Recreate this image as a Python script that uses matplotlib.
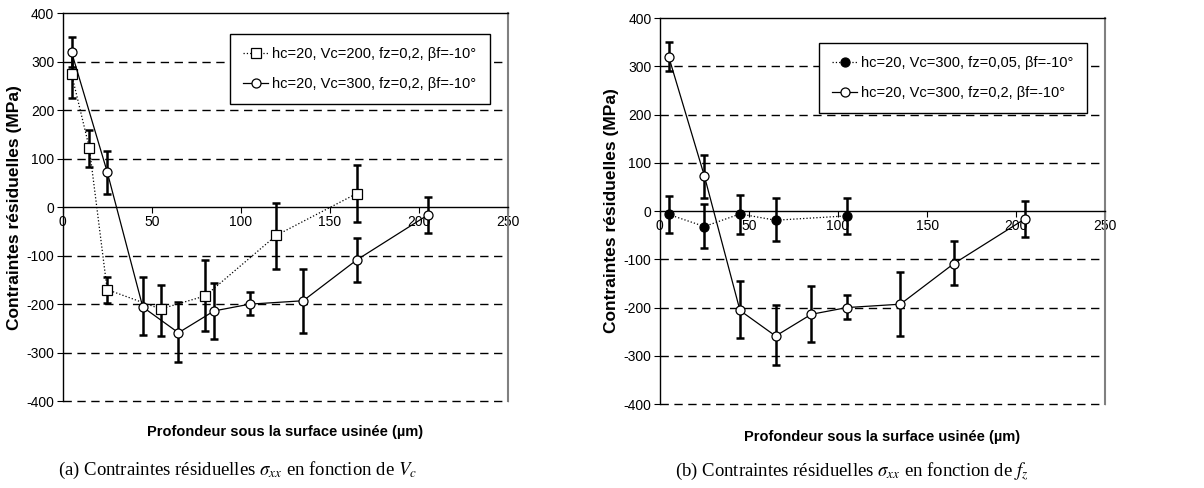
import numpy as np
import matplotlib.pyplot as plt

plt.rcParams['font.family'] = ['Liberation Sans', 'DejaVu Sans']
plt.rcParams['mathtext.fontset'] = 'stix'
plt.rcParams['axes.unicode_minus'] = False

# (a) effect of Vc
x_vc200 = [5, 15, 25, 55, 80, 120, 165]
y_vc200 = [275, 122, -170, -210, -183, -58, 28]
lo_vc200 = [225, 83, -198, -265, -256, -127, -31]
hi_vc200 = [325, 160, -143, -161, -109, 9, 87]

# reference series Vc=300, fz=0.2 (used in both panels)
x_ref = [5, 25, 45, 65, 85, 105, 135, 165, 205]
y_ref = [320, 73, -206, -259, -214, -200, -193, -109, -16]
lo_ref = [290, 28, -263, -319, -272, -223, -259, -154, -53]
hi_ref = [351, 116, -145, -195, -156, -175, -127, -63, 21]

# (b) effect of fz
x_fz005 = [5, 25, 45, 65, 105]
y_fz005 = [-7, -32, -6, -19, -10]
lo_fz005 = [-45, -77, -48, -63, -48]
hi_fz005 = [31, 14, 34, 28, 28]

lab_vc200 = 'hc=20, Vc=200, fz=0,2, βf=-10°'
lab_ref = 'hc=20, Vc=300, fz=0,2, βf=-10°'
lab_fz005 = 'hc=20, Vc=300, fz=0,05, βf=-10°'
xlabel = 'Profondeur sous la surface usinée (µm)'
ylabel = 'Contraintes résiduelles (MPa)'
caption_a = r'(a) Contraintes résiduelles $\sigma_{xx}$ en fonction de $V_c$'
caption_b = r'(b) Contraintes résiduelles $\sigma_{xx}$ en fonction de $f_z$'


def series(ax, x, y, lo, hi, ls, marker, mfc, label):
    y = np.array(y)
    err = [y - np.array(lo), np.array(hi) - y]
    ax.errorbar(x, y, yerr=err, fmt='none', ecolor='black', elinewidth=1.8,
                capsize=3, capthick=1.8, zorder=3)
    ax.plot(x, y, color='black', linestyle=ls, linewidth=0.9, marker=marker,
            markersize=6.5, markerfacecolor=mfc, markeredgecolor='black',
            markeredgewidth=0.9, label=label, zorder=4)


def setup(ax):
    ax.set_xlim(0, 250)
    ax.set_ylim(-400, 400)
    ax.set_xticks([0, 50, 100, 150, 200, 250])
    ax.set_yticks(np.arange(-400, 401, 100))
    for yv in [-400, -300, -200, -100, 100, 200, 300]:
        ax.axhline(yv, color='black', linestyle=(0, (6, 4)), linewidth=1.0,
                   zorder=1, clip_on=False)
    ax.spines['bottom'].set_position(('data', 0))
    ax.spines['bottom'].set_linewidth(1.0)
    ax.spines['left'].set_linewidth(1.0)
    ax.spines['top'].set_linewidth(1.0)
    ax.spines['right'].set_color('#808080')
    ax.spines['right'].set_linewidth(1.5)
    ax.tick_params(axis='y', direction='out', length=4, labelsize=10, pad=2)
    ax.tick_params(axis='x', direction='out', length=4, labelsize=10, pad=2)
    ax.set_ylabel(ylabel, fontsize=12.5, fontweight='bold', labelpad=3)


fig = plt.figure(figsize=(12.04, 4.88), dpi=100)
ax1 = fig.add_axes([0.052, 0.178, 0.37, 0.795])
ax2 = fig.add_axes([0.548, 0.172, 0.37, 0.791])

setup(ax1)
series(ax1, x_vc200, y_vc200, lo_vc200, hi_vc200, ':', 's', 'white', lab_vc200)
series(ax1, x_ref, y_ref, lo_ref, hi_ref, '-', 'o', 'white', lab_ref)
ax1.legend(loc='upper right', bbox_to_anchor=(0.975, 0.965), fontsize=10.5,
           frameon=True, fancybox=False, edgecolor='black', framealpha=1,
           handlelength=1.7, handletextpad=0.3, labelspacing=1.1,
           borderpad=0.9)

setup(ax2)
series(ax2, x_fz005, y_fz005, lo_fz005, hi_fz005, ':', 'o', 'black', lab_fz005)
series(ax2, x_ref, y_ref, lo_ref, hi_ref, '-', 'o', 'white', lab_ref)
ax2.legend(loc='upper right', bbox_to_anchor=(0.975, 0.955), fontsize=10.5,
           frameon=True, fancybox=False, edgecolor='black', framealpha=1,
           handlelength=1.7, handletextpad=0.3, labelspacing=1.1,
           borderpad=0.9)

fig.text(0.237, 0.115, xlabel, ha='center', va='center', fontsize=10.5, fontweight='bold')
fig.text(0.733, 0.105, xlabel, ha='center', va='center', fontsize=10.5, fontweight='bold')
fig.text(0.197, 0.035, caption_a, ha='center', va='center', fontsize=13.5,
         family='Liberation Serif')
fig.text(0.707, 0.035, caption_b, ha='center', va='center', fontsize=13.5,
         family='Liberation Serif')

fig.savefig('out.png', dpi=100)
